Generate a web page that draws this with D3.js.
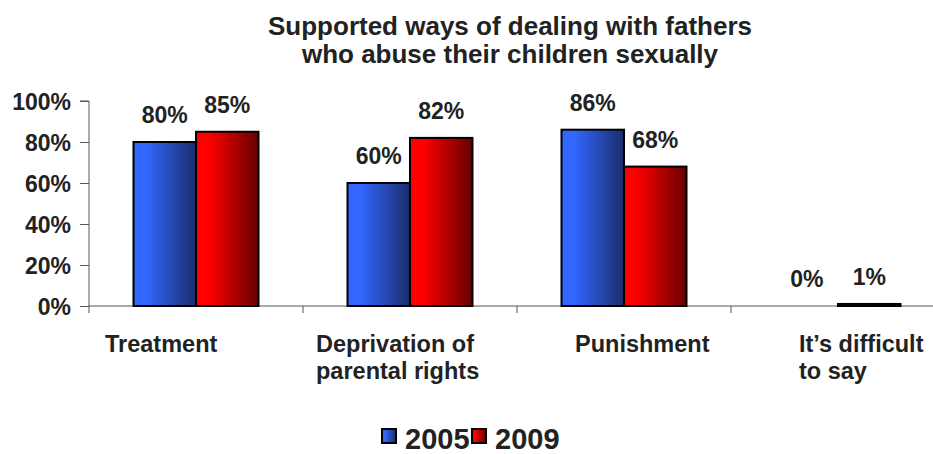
<!DOCTYPE html>
<html><head><meta charset="utf-8">
<script src="https://cdn.jsdelivr.net/npm/d3@7"></script>
<style>body{margin:0;background:#fff;}svg{display:block;font-family:"Liberation Sans",Arial,sans-serif;}</style>
</head><body><svg id="c" width="933" height="454"></svg>
<script>
const categories = ["Treatment", "Deprivation of\nparental rights", "Punishment", "It\u2019s difficult\nto say"];
const seriesNames = ["2005", "2009"];
const values2005 = [80, 60, 86, 0];
const values2009 = [85, 82, 68, 1];
const yTicks = [0, 20, 40, 60, 80, 100];
const titleLines = ["Supported ways of dealing with fathers", "who abuse their children sexually"];

const labelDx = [16, 13, 58, 68]; // left offset of category label blocks within each band
const svg = d3.select("#c");
const plotL = 89, plotR = 945, plotT = 101, plotB = 306;
const textCol = "#222";

const x = d3.scaleBand().domain(categories).range([plotL, plotR]);
const x1 = d3.scaleBand().domain(seriesNames).range([0, x.bandwidth()]).paddingInner(0).paddingOuter(0.712);
const y = d3.scaleLinear().domain([0, 100]).range([plotB, plotT]);

const defs = svg.append("defs");
function grad(id, stops) {
  const g = defs.append("linearGradient").attr("id", id).attr("x1", "0%").attr("x2", "100%").attr("y1", "0%").attr("y2", "0%");
  stops.forEach(s => g.append("stop").attr("offset", s[0]).attr("stop-color", s[1]));
}
grad("gBlue", [["0%", "#3366ff"], ["20%", "#3366ff"], ["100%", "#1a2d6b"]]);
grad("gRed", [["0%", "#ff0000"], ["20%", "#ff0000"], ["100%", "#660000"]]);
const fills = {"2005": "url(#gBlue)", "2009": "url(#gRed)"};

// title
svg.append("g").selectAll("text").data(titleLines).join("text")
  .attr("x", 510).attr("y", (d, i) => 35 + i * 28)
  .attr("text-anchor", "middle").attr("font-size", 26).attr("font-weight", "bold").attr("fill", textCol)
  .text(d => d);

// y axis
const yAxis = d3.axisLeft(y).tickValues(yTicks).tickFormat(d => d + "%").tickSize(9).tickPadding(9);
const ya = svg.append("g").attr("transform", `translate(${plotL},0)`).call(yAxis);
ya.select(".domain").attr("stroke", "#555").attr("d", `M-9,${plotT}H0V${plotB}`);
ya.selectAll(".tick line").attr("stroke", "#555");
ya.selectAll(".tick text").attr("font-size", 23).attr("font-weight", "bold").attr("fill", textCol)
  .attr("font-family", "Liberation Sans, Arial, sans-serif").attr("dy", "0.36em");

// x baseline + category ticks
svg.append("line").attr("x1", plotL).attr("x2", plotR).attr("y1", plotB).attr("y2", plotB).attr("stroke", "#555");
svg.append("g").selectAll("line").data(categories).join("line")
  .attr("x1", d => x(d)).attr("x2", d => x(d)).attr("y1", plotB).attr("y2", plotB + 7).attr("stroke", "#555");

// bars
const rows = categories.map((c, i) => ({cat: c, vals: [{s: "2005", v: values2005[i]}, {s: "2009", v: values2009[i]}]}));
const grp = svg.append("g").selectAll("g").data(rows).join("g").attr("transform", d => `translate(${x(d.cat)},0)`);
grp.selectAll("rect").data(d => d.vals.filter(e => e.v > 0)).join("rect")
  .attr("x", d => x1(d.s)).attr("width", x1.bandwidth())
  .attr("y", d => y(d.v)).attr("height", d => y(0) - y(d.v))
  .attr("fill", d => fills[d.s]).attr("stroke", "#000").attr("stroke-width", 2);
grp.selectAll("text").data(d => d.vals).join("text")
  .attr("x", d => x1(d.s) + x1.bandwidth() / 2).attr("y", d => y(d.v) - 19)
  .attr("text-anchor", "middle").attr("font-size", 23).attr("font-weight", "bold").attr("fill", textCol)
  .text(d => d.v + "%");

// category labels
const cl = svg.append("g").selectAll("text").data(categories).join("text")
  .attr("x", (d, i) => x(d) + labelDx[i]).attr("y", 352)
  .attr("font-size", 23.5).attr("font-weight", "bold").attr("fill", textCol);
cl.selectAll("tspan").data(d => d.split("\n")).join("tspan")
  .attr("x", function() { return d3.select(this.parentNode).attr("x"); })
  .attr("dy", (d, i) => i === 0 ? 0 : 27).text(d => d);

// legend
const legX = [382, 472];
const lg = svg.append("g").selectAll("g").data(seriesNames).join("g");
lg.append("rect").attr("x", (d, i) => legX[i]).attr("y", 429).attr("width", 14).attr("height", 14)
  .attr("fill", d => fills[d]).attr("stroke", "#000").attr("stroke-width", 2);
lg.append("text").attr("x", (d, i) => legX[i] + 23).attr("y", 449)
  .attr("font-size", 29).attr("font-weight", "bold").attr("fill", textCol).text(d => d);
</script></body></html>
